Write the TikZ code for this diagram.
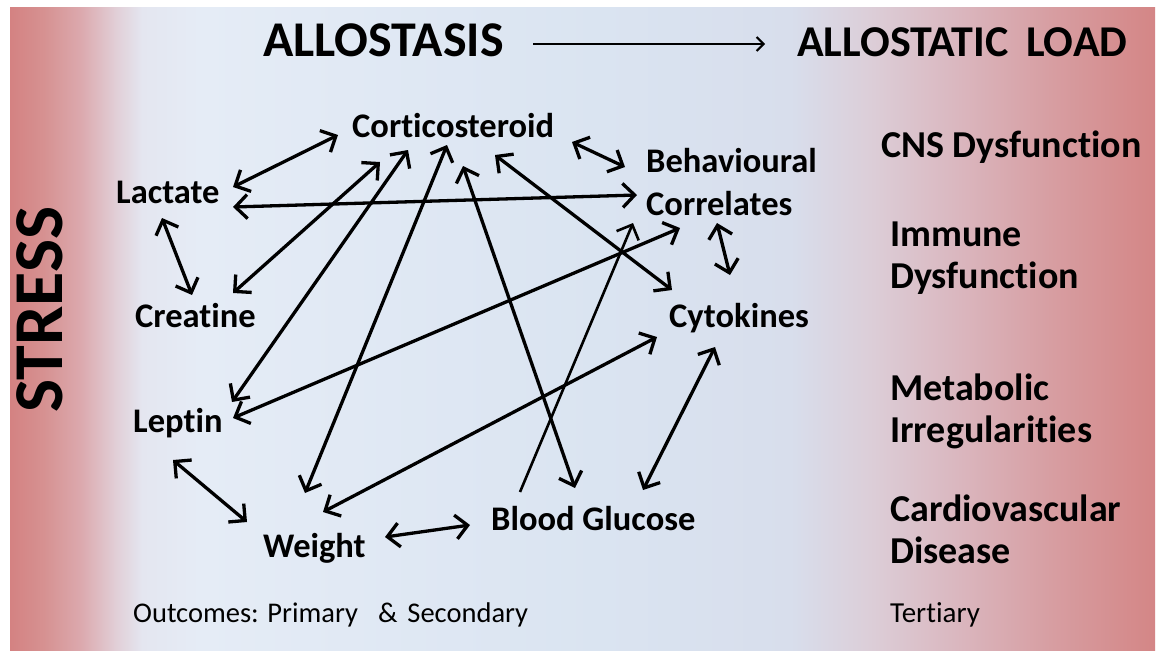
\documentclass[tikz,border=0pt]{standalone}
\usepackage{fontspec}
\setmainfont{Carlito}[Ligatures=NoCommon]
\usetikzlibrary{arrows.meta}
\definecolor{c0}{RGB}{212,130,130}
\definecolor{c1}{RGB}{214,146,146}
\definecolor{c2}{RGB}{220,170,175}
\definecolor{c3}{RGB}{225,205,213}
\definecolor{c4}{RGB}{228,230,240}
\definecolor{c5}{RGB}{229,236,246}
\definecolor{c6}{RGB}{218,228,241}
\definecolor{c7}{RGB}{216,222,236}
\definecolor{c8}{RGB}{220,206,216}
\definecolor{c9}{RGB}{218,182,190}
\definecolor{c10}{RGB}{215,158,162}
\definecolor{c11}{RGB}{212,134,134}
\begin{document}
\begin{tikzpicture}[x=1pt,y=-1pt,
  lbl/.style={font=\fontsize{34.5}{36}\selectfont\bfseries, inner sep=0pt, anchor=base west},
  rlbl/.style={font=\fontsize{38}{40}\selectfont\bfseries, inner sep=0pt, anchor=base west},
  ttl/.style={font=\fontsize{44}{48}\selectfont\bfseries, inner sep=0pt, anchor=base west},
  note/.style={font=\fontsize{28.5}{30}\selectfont, inner sep=0pt, anchor=base west},
  dbl/.style={line width=3.3pt, line join=round, {Straight Barb[length=12pt,width=24pt]}-{Straight Barb[length=12pt,width=24pt]}},
  sgl/.style={line width=2.6pt, line join=round, -{Straight Barb[length=12pt,width=24pt]}},
  thin/.style={line width=2pt, -{Straight Barb[length=7pt,width=14pt]}}
]
\useasboundingbox (0,0) rectangle (1160,657);
\fill[white] (0,0) rectangle (1160,657);
% background gradient
\fill[left color=c0, right color=c1] (10,7) rectangle (45.5,650);
\fill[left color=c1, right color=c2] (45,7) rectangle (82.5,650);
\fill[left color=c2, right color=c3] (82,7) rectangle (114.5,650);
\fill[left color=c3, right color=c4] (114,7) rectangle (142.5,650);
\fill[left color=c4, right color=c5] (142,7) rectangle (200.5,650);
\fill[left color=c5, right color=c6] (200,7) rectangle (600.5,650);
\fill[left color=c6, right color=c7] (600,7) rectangle (790.5,650);
\fill[left color=c7, right color=c8] (790,7) rectangle (870.5,650);
\fill[left color=c8, right color=c9] (870,7) rectangle (960.5,650);
\fill[left color=c9, right color=c10] (960,7) rectangle (1050.5,650);
\fill[left color=c10, right color=c11] (1050,7) rectangle (1155,650);

% titles
\node[ttl, font=\fontsize{50}{52}\selectfont\bfseries] (all) at (263,56) {ALLOSTASIS};
\node[ttl] (load) at (797,56) {ALLOSTATIC\, LOAD};
\node[font=\fontsize{70}{72}\selectfont\bfseries, inner sep=0pt, anchor=base west, rotate=90] (stress) at (62,413) {STRESS};

% network nodes
\node[lbl] (cor) at (352,137) {Corticosteroid};
\node[lbl] (lac) at (116,203) {Lactate};
\node[lbl] (cre) at (135,327) {Creatine};
\node[lbl] (lep) at (133,432) {Leptin};
\node[lbl] (wei) at (263,557) {Weight};
\node[lbl] (blo) at (491,530) {Blood Glucose};
\node[lbl] (cyt) at (669,327) {Cytokines};
\node[lbl] (beh1) at (646,172) {Behavioural};
\node[lbl] (beh2) at (646,215) {Correlates};

% right column
\node[rlbl] (cns) at (881,157) {CNS Dysfunction};
\node[rlbl] (imm1) at (890,246) {Immune};
\node[rlbl] (imm2) at (890,288) {Dysfunction};
\node[rlbl] (met1) at (890,400) {Metabolic};
\node[rlbl] (met2) at (890,442) {Irregularities};
\node[rlbl] (car1) at (890,521) {Cardiovascular};
\node[rlbl] (car2) at (890,563) {Disease};

% bottom notes
\node[note] (out) at (133,622) {Outcomes: Primary\hspace{20pt}\&\hspace{10pt}Secondary};
\node[note, font=\fontsize{29}{30}\selectfont] (ter) at (890,622) {Tertiary};

% title arrow
\draw[thin] ([shift={(270,-12)}]all.base west) -- ([shift={(-32,-12)}]load.base west);

% connectors
\draw[dbl] ([shift={(117,-16)}]lac.base west) -- ([shift={(-14,-2)}]cor.base west);
\draw[dbl] ([shift={(117,4)}]lac.base west) -- ([shift={(-9,-20)}]beh2.base west);
\draw[dbl] ([shift={(46,15)}]lac.base west) -- ([shift={(57,-32)}]cre.base west);
\draw[dbl] ([shift={(98,-34)}]cre.base west) -- ([shift={(28,25)}]cor.base west);
\draw[dbl] ([shift={(99,-30)}]lep.base west) -- ([shift={(56,13)}]cor.base west);
\draw[dbl] ([shift={(42,-64)}]wei.base west) -- ([shift={(95,8)}]cor.base west);
\draw[dbl] ([shift={(84,-42)}]blo.base west) -- ([shift={(111,29)}]cor.base west);
\draw[dbl] ([shift={(143,18)}]cor.base west) -- ([shift={(3,-37)}]cyt.base west);
\draw[dbl] ([shift={(220,5)}]cor.base west) -- ([shift={(-21,-5)}]beh1.base west);
\draw[dbl] ([shift={(71,8)}]beh2.base west) -- ([shift={(61,-52)}]cyt.base west);
\draw[dbl] ([shift={(100,-14)}]lep.base west) -- ([shift={(34,13)}]beh2.base west);
\draw[sgl] ([shift={(29,-38)}]blo.base west) -- ([shift={(-13,8)}]beh2.base west);
\draw[dbl] ([shift={(60,-45)}]wei.base west) -- ([shift={(-12,10)}]cyt.base west);
\draw[dbl] ([shift={(46,20)}]cyt.base west) -- ([shift={(152,-40)}]blo.base west);
\draw[dbl] ([shift={(40,28)}]lep.base west) -- ([shift={(-16,-35)}]wei.base west);
\draw[dbl] ([shift={(122,-20)}]wei.base west) -- ([shift={(-21,-5)}]blo.base west);
\end{tikzpicture}
\end{document}
